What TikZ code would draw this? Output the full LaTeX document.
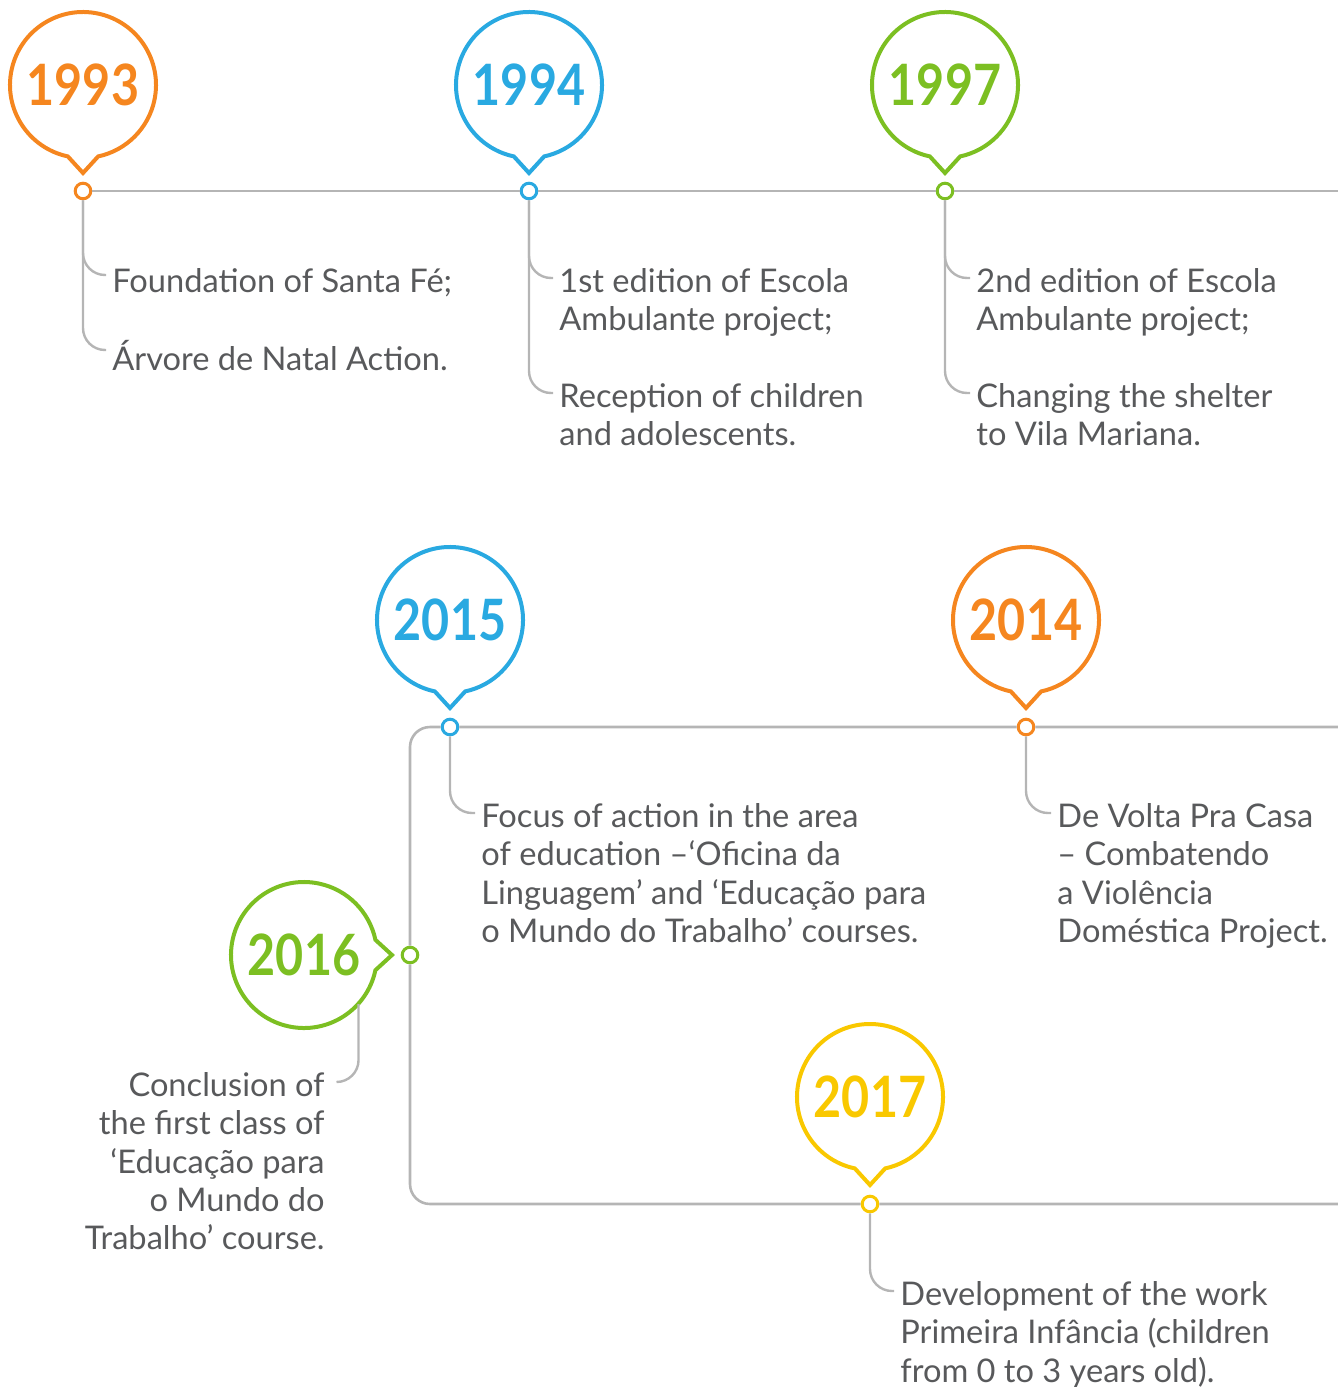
\documentclass[tikz,border=0pt]{standalone}
\usepackage{fontspec}
\usepackage{graphicx}
\setmainfont{Lato}
\usetikzlibrary{calc}
\definecolor{orangeY}{HTML}{F5861F}
\definecolor{blueY}{HTML}{29A9E1}
\definecolor{greenY}{HTML}{7CBF22}
\definecolor{yellowY}{HTML}{F9C800}
\definecolor{lineG}{HTML}{B5B5B5}
\definecolor{textG}{HTML}{58595B}
\tikzset{
  year/.style={circle, minimum size=73pt, inner sep=0pt, font=\fontsize{28.5}{28.5}\selectfont\bfseries},
  bubbleline/.style={line width=2pt, line join=miter},
  dot/.style={circle, fill=white, line width=1.5pt, minimum size=7.8pt, inner sep=0pt},
  item/.style={anchor=north west, inner sep=0pt, align=left, text=textG,
    font=\fontsize{16.3}{19.15}\selectfont, execute at begin node=\strut},
  axis/.style={draw=lineG, line width=1.3pt},
  branch/.style={draw=lineG, line width=1.2pt, rounded corners=11pt}
}
\def\bubble[#1](#2)(#3){\draw[bubbleline,#1] ($(#2)+({#3+12}:73)$) arc ({#3+12}:{#3+348}:73) -- ($(#2)+(#3:88)$) -- cycle;}
\newcommand\yr[1]{\scalebox{0.85}[1]{#1}}

\begin{document}
\begin{tikzpicture}[x=0.5pt, y=-0.5pt]
  \useasboundingbox (0,0) rectangle (1338,1387);
  %%%%% years %%%%%
  \node[year, text=orangeY] (y93) at (83,85) {\yr{1993}};
  \node[year, text=blueY] (y94) at (529,85) {\yr{1994}};
  \node[year, text=greenY] (y97) at (945,85) {\yr{1997}};
  \node[year, text=blueY] (y15) at (450,620) {\yr{2015}};
  \node[year, text=orangeY] (y14) at (1026,620) {\yr{2014}};
  \node[year, text=greenY] (y16) at (304,955) {\yr{2016}};
  \node[year, text=yellowY] (y17) at (870,1097) {\yr{2017}};
  \bubble[orangeY](y93)(90)
  \bubble[blueY](y94)(90)
  \bubble[greenY](y97)(90)
  \bubble[blueY](y15)(90)
  \bubble[orangeY](y14)(90)
  \bubble[greenY](y16)(0)
  \bubble[yellowY](y17)(90)

  %%%%% dots %%%%%
  \node[dot, draw=orangeY] (d93) at (83,191) {};
  \node[dot, draw=blueY] (d94) at (529,191) {};
  \node[dot, draw=greenY] (d97) at (945,191) {};
  \node[dot, draw=blueY] (d15) at (450,727) {};
  \node[dot, draw=orangeY] (d14) at (1026,727) {};
  \node[dot, draw=greenY] (d16) at (410,955) {};
  \node[dot, draw=yellowY] (d17) at (870,1204) {};
  \coordinate (e1) at (1338,191);
  \coordinate (e2) at (1338,727);
  \coordinate (e3) at (1338,1204);
  \coordinate (k1) at (410,727);
  \coordinate (k2) at (410,1204);

  %%%%% texts %%%%%
  \node[item] (t93a) at (112,265) {Foundation of Santa Fé;};
  \node[item] (t93b) at (112,340) {Árvore de Natal Action.};
  \node[item] (t94a) at (559,268) {1st edition of Escola\\Ambulante project;};
  \node[item] (t94b) at (559,383) {Reception of children\\and adolescents.};
  \node[item] (t97a) at (976,268) {2nd edition of Escola\\Ambulante project;};
  \node[item] (t97b) at (976,383) {Changing the shelter\\to Vila Mariana.};
  \node[item] (t15) at (481,803) {Focus of action in the area\\of education –‘Oficina da\\Linguagem’ and ‘Educação para\\o Mundo do Trabalho’ courses.};
  \node[item] (t14) at (1057,803) {De Volta Pra Casa\\– Combatendo\\a Violência\\Doméstica Project.};
  \node[item, anchor=north east, align=right] (t16) at (325,1072) {Conclusion of\\the first class of\\‘Educação para\\o Mundo do\\Trabalho’ course.};
  \node[item] (t17) at (900,1281) {Development of the work\\Primeira Infância (children\\from 0 to 3 years old).};

  %%%%% lines %%%%%
  \draw[axis] (d93) -- (d94) -- (d97) -- (e1);
  \draw[axis, rounded corners=10pt] (e2) -- (d14) -- (d15) -- (k1) -- (d16) -- (k2) -- (d17) -- (e3);

  \draw[branch] (d93) |- ([xshift=-3pt,yshift=-5pt]t93a.north west);
  \draw[branch] (d93) |- ([xshift=-3pt,yshift=-5pt]t93b.north west);
  \draw[branch] (d94) |- ([xshift=-3pt,yshift=-5pt]t94a.north west);
  \draw[branch] (d94) |- ([xshift=-3pt,yshift=-5pt]t94b.north west);
  \draw[branch] (d97) |- ([xshift=-3pt,yshift=-5pt]t97a.north west);
  \draw[branch] (d97) |- ([xshift=-3pt,yshift=-5pt]t97b.north west);
  \draw[branch] (d15) |- ([xshift=-3pt,yshift=-5pt]t15.north west);
  \draw[branch] (d14) |- ([xshift=-3pt,yshift=-5pt]t14.north west);
  \draw[branch] (y16.-42) |- ([xshift=6pt,yshift=-5pt]t16.north east);
  \draw[branch] (d17) |- ([xshift=-3pt,yshift=-5pt]t17.north west);
\end{tikzpicture}
\end{document}
